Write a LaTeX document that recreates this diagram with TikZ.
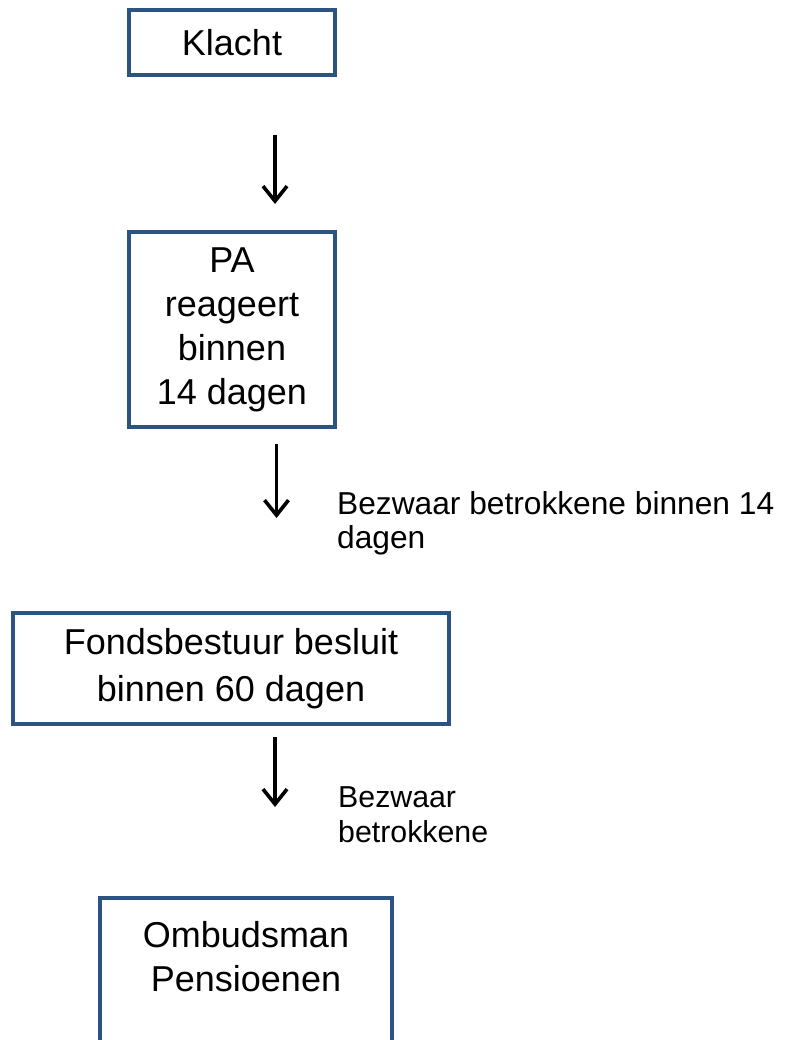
\documentclass[tikz,border=0pt]{standalone}
\usepackage{fontspec}
\setmainfont{Liberation Sans}
\usetikzlibrary{arrows.meta}
\definecolor{boxblue}{RGB}{44,84,130}
\tikzset{
  box/.style={draw=boxblue, line width=3.2pt, fill=white, align=center, inner sep=0pt,
    font=\fontsize{36}{44}\selectfont},
  boxtext/.style={align=center, inner sep=0pt, font=\fontsize{36}{44}\selectfont},
  lbl/.style={align=left, inner sep=0pt, anchor=north west, font=\fontsize{31.7}{34.5}\selectfont},
  lblb/.style={align=left, inner sep=0pt, anchor=north west, font=\fontsize{30.3}{35}\selectfont},
  flow/.style={line width=3.3pt, -{Straight Barb[length=15pt,width=24pt,line width=3.6pt]}}
}
\begin{document}
\begin{tikzpicture}[x=1pt,y=-1pt]
\useasboundingbox (0,0) rectangle (785,1040);
\clip (0,0) rectangle (785,1040);
\fill[white] (0,0) rectangle (785,1040);

\node[box, minimum width=206pt, minimum height=65pt] (klacht) at (232,42.5) {Klacht};
\node[box, minimum width=206pt, minimum height=195pt] (pa) at (232,329.5)
  {PA\\reageert\\binnen\\14 dagen};
\node[box, minimum width=436pt, minimum height=111pt, font=\fontsize{36}{47.5}\selectfont] (fonds) at (231,668.5)
  {Fondsbestuur besluit\\binnen 60 dagen};
\node[box, minimum width=292pt, minimum height=230pt] (omb) at (246,1013) {};
\node[boxtext] (ombt) at (246,957) {Ombudsman\\Pensioenen};

\coordinate (a1s) at (275,135);
\coordinate (a1e) at (275,204);
\coordinate (a2s) at (276.5,444);
\coordinate (a2e) at (276.5,518);
\coordinate (a3s) at (275,737);
\coordinate (a3e) at (275,807);
\draw[flow] (a1s) -- (a1e);
\draw[flow] (a2s) -- (a2e);
\draw[flow] (a3s) -- (a3e);

\node[lbl] (l1) at (337,491) {Bezwaar betrokkene binnen 14\\dagen};
\node[lblb] (l2) at (338,786) {Bezwaar\\betrokkene};
\end{tikzpicture}
\end{document}
